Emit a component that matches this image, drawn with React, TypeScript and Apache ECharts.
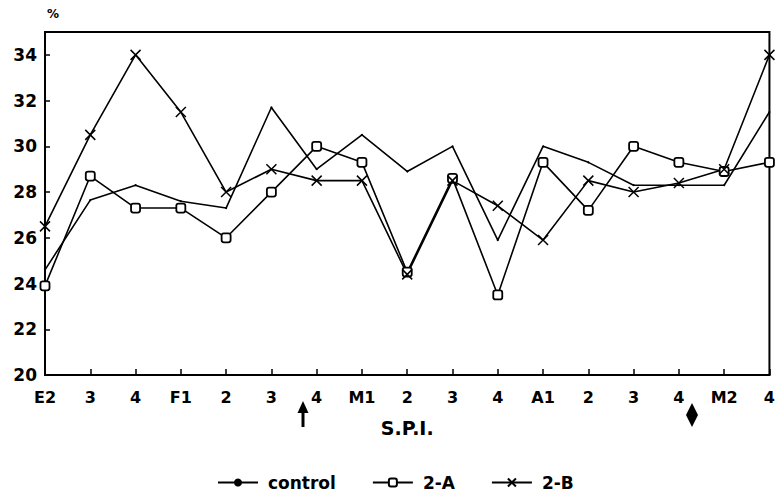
import React, { useEffect, useRef } from "react";
import * as echarts from "echarts";

const categories = ["E2", "3", "4", "F1", "2", "3", "4", "M1", "2", "3", "4", "A1", "2", "3", "4", "M2", "4"];
const controlValues = [24.6, 27.65, 28.3, 27.6, 27.3, 31.7, 29.0, 30.5, 28.9, 30.0, 25.9, 30.0, 29.3, 28.3, 28.3, 28.3, 31.5];
const seriesAValues = [23.9, 28.7, 27.3, 27.3, 26.0, 28.0, 30.0, 29.3, 24.5, 28.6, 23.5, 29.3, 27.2, 30.0, 29.3, 28.9, 29.3];
const seriesBValues = [26.5, 30.5, 34.0, 31.5, 28.0, 29.0, 28.5, 28.5, 24.4, 28.5, 27.4, 25.9, 28.5, 28.0, 28.4, 29.0, 34.0];
const seriesNames = ["control", "2-A", "2-B"];

const FONT = "'DejaVu Sans', sans-serif";

export default function App() {
  const ref = useRef<HTMLDivElement>(null);
  useEffect(() => {
    if (!ref.current) return;
    const chart = echarts.init(ref.current, undefined, { renderer: "svg" });
    chart.setOption({
      animation: false,
      backgroundColor: "#fff",
      textStyle: { fontFamily: FONT },
      grid: {
        left: 45,
        right: 7,
        top: 32,
        bottom: 122,
        show: true,
        borderColor: "#000",
        borderWidth: 2,
      },
      legend: {
        data: seriesNames,
        left: 217,
        top: 474,
        padding: 0,
        itemWidth: 40,
        itemHeight: 10,
        itemGap: 36,
        textStyle: { fontSize: 17, fontWeight: "bold", color: "#000", fontFamily: FONT, padding: [0, 0, 0, 5] },
      },
      xAxis: {
        type: "category",
        data: categories,
        boundaryGap: false,
        name: "S.P.I.",
        nameLocation: "middle",
        nameGap: 43,
        nameTextStyle: { fontSize: 19, fontWeight: "bold", color: "#000", fontFamily: FONT },
        axisLine: { lineStyle: { color: "#000", width: 2 } },
        axisTick: { inside: true, length: 6, lineStyle: { color: "#000", width: 1.5 } },
        axisLabel: { fontSize: 16, fontWeight: "bold", color: "#000", margin: 14, interval: 0, fontFamily: FONT },
        splitLine: { show: false },
      },
      yAxis: {
        type: "value",
        min: 20,
        max: 35,
        interval: 2,
        axisLine: { show: true, lineStyle: { color: "#000", width: 2 } },
        axisTick: { show: true, inside: true, length: 5, lineStyle: { color: "#000", width: 1.5 } },
        axisLabel: { fontSize: 17, fontWeight: "bold", color: "#000", margin: 8, showMaxLabel: false, fontFamily: FONT },
        splitLine: { show: false },
      },
      graphic: [
        { type: "text", left: 47, top: 8, style: { text: "%", fontSize: 12, fontWeight: "bold", fill: "#000", fontFamily: FONT } },
        { type: "polygon", shape: { points: [[303, 401], [297.5, 413], [308.5, 413]] }, style: { fill: "#000" } },
        { type: "rect", shape: { x: 301.5, y: 410, width: 3, height: 17 }, style: { fill: "#000" } },
        { type: "polygon", shape: { points: [[692, 403], [698, 415], [692, 427], [686, 415]] }, style: { fill: "#000" } },
      ],
      series: [
        {
          name: "control",
          type: "line",
          data: controlValues,
          symbol: "circle",
          symbolSize: 2,
          lineStyle: { color: "#000", width: 1.6 },
          itemStyle: { color: "#000" },
        },
        {
          name: "2-A",
          type: "line",
          data: seriesAValues,
          symbol: "roundRect",
          symbolSize: 9,
          lineStyle: { color: "#000", width: 1.6 },
          itemStyle: { color: "#fff", borderColor: "#000", borderWidth: 1.8 },
        },
        {
          name: "2-B",
          type: "line",
          data: seriesBValues,
          symbol: "path://M0,0L10,10M10,0L0,10",
          symbolSize: 10,
          lineStyle: { color: "#000", width: 1.6 },
          itemStyle: { color: "#000", borderColor: "#000", borderWidth: 1.5 },
        },
      ],
    });
    return () => chart.dispose();
  }, []);
  return <div ref={ref} style={{ width: 778, height: 497, position: "absolute", left: 0, top: 0 }} />;
}
